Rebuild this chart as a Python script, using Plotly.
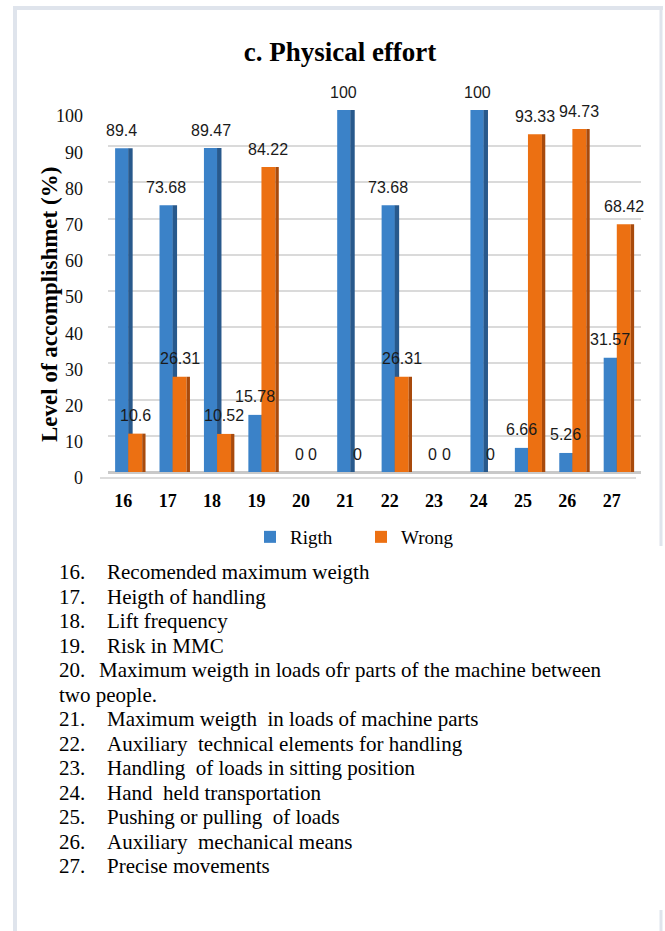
import plotly.graph_objects as go

# Items 16-27 of the physical effort block
items = ["16", "17", "18", "19", "20", "21", "22", "23", "24", "25", "26", "27"]
right_vals = [89.4, 73.68, 89.47, 15.78, 0, 100, 73.68, 0, 100, 6.66, 5.26, 31.57]
wrong_vals = [10.6, 26.31, 10.52, 84.22, 0, 0, 26.31, 0, 0, 93.33, 94.73, 68.42]
y_ticks = [0, 10, 20, 30, 40, 50, 60, 70, 80, 90, 100]

# Descriptions listed under the chart (number, text)
descriptions = [
    ("16.", "Recomended maximum weigth"),
    ("17.", "Heigth of handling"),
    ("18.", "Lift frequency"),
    ("19.", "Risk in MMC"),
    ("20.", "Maximum weigth in loads ofr parts of the machine between"),
    ("", "two people."),
    ("21.", "Maximum weigth  in loads of machine parts"),
    ("22.", "Auxiliary  technical elements for handling"),
    ("23.", "Handling  of loads in sitting position"),
    ("24.", "Hand  held transportation"),
    ("25.", "Pushing or pulling  of loads"),
    ("26.", "Auxiliary  mechanical means"),
    ("27.", "Precise movements"),
]

W, H = 665, 931
L, R, T, B = 108, 24, 110, 459
PW, PH = W - L - R, H - T - B


def px_x(px):
    return (px - L) / PW


def px_y(py):
    return (H - B - py) / PH


SERIF = "Liberation Serif"
LIST_FONT = "Liberation Serif"
SANS = "Liberation Sans"

BLUE, BLUE_SIDE = "#3b82c8", "#28598c"
ORANGE, ORANGE_SIDE = "#ec7012", "#a84a0c"

# bar geometry (in category units): front face + darker side face
B_OFF, B_W = -0.34, 0.30
BS_OFF, BS_W = -0.045, 0.10
O_OFF, O_W = -0.045, 0.315
OS_OFF, OS_W = 0.27, 0.075

xs = list(range(len(items)))

fig = go.Figure()
fig.add_bar(x=xs, y=right_vals, width=B_W, offset=B_OFF, marker_color=BLUE,
            marker_line_width=0, name="Rigth")
fig.add_bar(x=xs, y=right_vals, width=BS_W, offset=BS_OFF, marker_color=BLUE_SIDE,
            marker_line_width=0, showlegend=False, hoverinfo="skip")
fig.add_bar(x=xs, y=wrong_vals, width=O_W, offset=O_OFF, marker_color=ORANGE,
            marker_line_width=0, name="Wrong")
fig.add_bar(x=xs, y=wrong_vals, width=OS_W, offset=OS_OFF, marker_color=ORANGE_SIDE,
            marker_line_width=0, showlegend=False, hoverinfo="skip")

annotations = []
# value labels above each bar
for i, (rv, wv) in enumerate(zip(right_vals, wrong_vals)):
    for val, off, w in ((rv, B_OFF, B_W), (wv, O_OFF, O_W)):
        annotations.append(dict(
            x=i + off + w / 2, y=val, xref="x", yref="y", text=f"{val:g}",
            showarrow=False, xanchor="center", yanchor="middle", yshift=18,
            font=dict(family=SANS, size=16, color="#1a1a1a")))

# y axis title
annotations.append(dict(
    x=px_x(49), y=px_y(305), xref="paper", yref="paper",
    xanchor="center", yanchor="middle",
    text="<b>Level of accomplishmet (%)</b>", textangle=-90, showarrow=False,
    font=dict(family=SERIF, size=23, color="#000000")))

# description list
for k, (num, txt) in enumerate(descriptions):
    ypx = 572 + 24.5 * k
    if num:
        annotations.append(dict(
            x=px_x(57), y=px_y(ypx), xref="paper", yref="paper", text=num,
            showarrow=False, xanchor="left", yanchor="middle",
            font=dict(family=LIST_FONT, size=21, color="#000000")))
        tx = 97 if num == "20." else 105
    else:
        tx = 57
    annotations.append(dict(
        x=px_x(tx), y=px_y(ypx), xref="paper", yref="paper", text=txt,
        showarrow=False, xanchor="left", yanchor="middle",
        font=dict(family=LIST_FONT, size=21, color="#000000")))

FRAME = "#dfe4ec"
shapes = [
    dict(type="line", xref="paper", yref="paper", x0=px_x(15), x1=px_x(15),
         y0=px_y(6), y1=px_y(H), line=dict(color=FRAME, width=4)),
    dict(type="line", xref="paper", yref="paper", x0=px_x(13), x1=px_x(663),
         y0=px_y(8), y1=px_y(8), line=dict(color=FRAME, width=4)),
    dict(type="line", xref="paper", yref="paper", x0=px_x(661), x1=px_x(661),
         y0=px_y(6), y1=px_y(546), line=dict(color=FRAME, width=3)),
    dict(type="line", xref="paper", yref="paper", x0=px_x(661), x1=px_x(661),
         y0=px_y(910), y1=px_y(H), line=dict(color=FRAME, width=3)),
    # front edge of the floor
    dict(type="line", xref="paper", yref="paper", x0=px_x(100), x1=px_x(636),
         y0=px_y(478), y1=px_y(478), line=dict(color="#dcdcdc", width=2)),
]

fig.update_layout(
    width=W, height=H,
    margin=dict(l=L, r=R, t=T, b=B),
    paper_bgcolor="white", plot_bgcolor="white",
    barmode="overlay",
    title=dict(text="<b>c. Physical effort</b>", x=340 / W, xref="container",
               y=1 - 52 / H, yref="container", xanchor="center", yanchor="middle",
               font=dict(family=SERIF, size=27, color="#000000")),
    xaxis=dict(range=[-0.5, 11.5], tickvals=xs, ticktext=items,
               showgrid=False, zeroline=False, showline=False, ticks="",
               ticklabelstandoff=16, ticklabelshift=-7,
               tickfont=dict(family=SERIF, size=18, color="#000000", weight="bold")),
    yaxis=dict(range=[0, 100], tickvals=y_ticks, showgrid=True,
               gridcolor="#dadada", gridwidth=2, zeroline=True,
               zerolinecolor="#c9c9c9", zerolinewidth=3, showline=False,
               ticks="", ticklabelstandoff=24, ticklabelshift=6,
               tickfont=dict(family=SERIF, size=18, color="#111111")),
    legend=dict(orientation="h", x=px_x(250), xanchor="left",
                y=px_y(537), yanchor="middle", entrywidth=66,
                font=dict(family=SERIF, size=19, color="#000000"),
                bgcolor="rgba(0,0,0,0)", traceorder="normal"),
    showlegend=True,
    annotations=annotations,
    shapes=shapes,
)

fig.write_html("out.html")
